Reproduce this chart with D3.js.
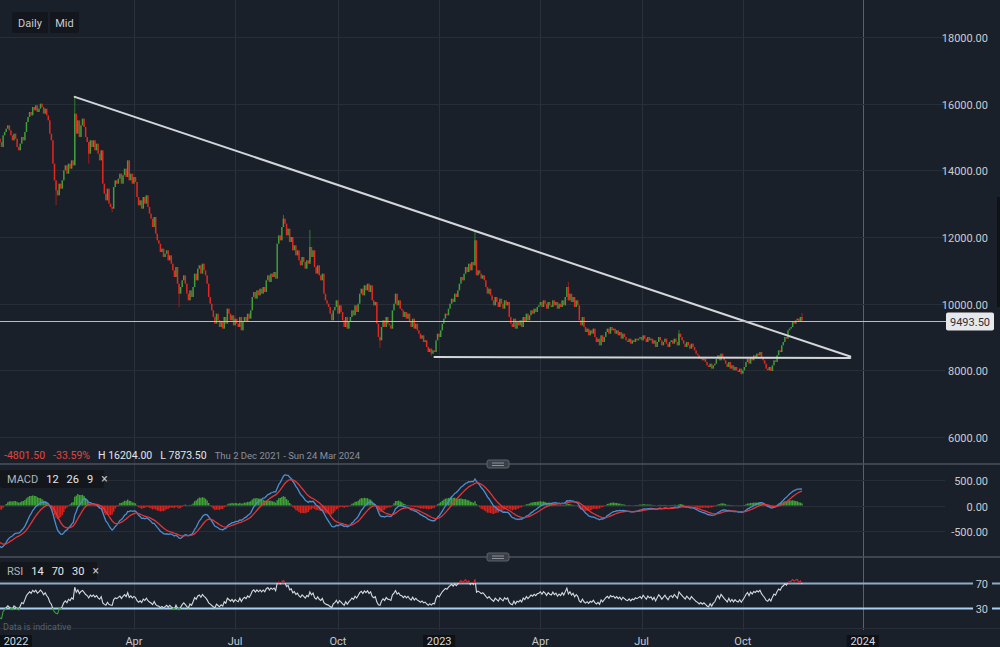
<!DOCTYPE html>
<html><head><meta charset="utf-8">
<script src="https://cdn.jsdelivr.net/npm/d3@7"></script>
<style>
html,body{margin:0;padding:0;background:#1a2029;}
svg{display:block;font-family:Roboto,"Noto Sans",sans-serif;}
</style></head><body>
<svg id="chart" width="1000" height="647"></svg>
<script>
// ---------------- DATA ----------------
const dataStart = "2021-12-02";
const viewEnd = "2024-03-24";
// closes before the visible window (used only to warm up the indicators)
const warmupCloses = [19050,19150,19000,19100,19200,19080,19150,19020,19100,19180,19050,19120,19200,19100,19150,
 18950,18780,18870,18550,18380,18460,18150,17980,18060,17750,17580,17670,17350,17180,17270,16950,16780,16870,16550,16380,16470,16150,15980,16060,15750,15580,15660,15350,15200,14950];
// daily closes, one per trading day from dataStart
const closes = [
 14850,14700,15050,15150, 15250,15350,15200, 15050,14900,15100,14950, 14700,14600,14800, 15000,14900,15150, 15450,15600,
 15750,15650,15900, 15800,15950,15750,15850,16000,15900,15700, 15850,15650,15500, 15100,14900, 14200,13700,
 13400,13250,13600, 13450,13700, 14000,14150,13900, 14200,14050,14300,14150, 15700, 15100,15500,15000,15350,
 15550,15300, 15000,14850, 14500,14900, 14700,14900,14600,14800,14500, 14300,14600, 13600,13300,13100,13450,13000,
 12900,12850, 13500,13700,13600,13750, 13900,13600,13850,14050,13800,14300, 13700,13900,13600,13800,13650,
 13200,12950, 13100,12850,13200,13000,13250, 12900,12700,12550, 12300,12600,12100,11900,11800,
 11550,11650,11400,11500, 11600,11300,11450,11200, 11000,10800,11100, 10600,10300,10500, 10700,10850,10600,
 10300,10100,10400,10200, 10500,10900,10700,11050, 11150,10900,11200,11000,10850, 10600,10200,10000,
 9800,9600,9400,9700,9500, 9300,9450,9250,9600,9400, 9850,9700, 9500,9650,9350,9550,9400, 9300,9600,9200,9450,9600,
 9450,9700,9550,9800, 10200,10350,10150,10400,10250, 10450,10300,10500,10350,
 10700,10850,10650,10900,10800,10950,10750, 11800,12050,11900, 12300,12550,12400, 12050,12250,11850,12000,
 11600,11750,11450,11600, 11300,11150,11400,11250,11050,11300,11200, 11700,11400,11600, 11100,10900,11150,
 10850,10700,10900, 10300,10100,10000,9900, 9700,9500,9800, 9900,10100,9700,9950,9750, 9500,9300,9600,9250,9450,9600,
 9800,9650,9950,9750,10000, 10300,10450,10250,10550,10400, 10600,10350,10550, 10100,9950,10050,
 9400,9000,8900,9300, 9500,9300,9600,9400, 9350,9250, 9800,10000,10300,9950,10100,9850, 9800,9600,9750,9550,9700,
 9450,9300,9550,9250,9400,9200, 9100,8950,9050,8850,8900, 8700,8550,8650,8500,8600,8550,
 8900,9100,9000,9200, 9400,9550,9700,9650, 9850,10000,10150,10050,10300,10200,10400, 10600,10800,10700,10900,
 11100,10950,11200,11000,11250, 11150,11900, 10850,11000, 10900,10750,10850,10700, 10500,10300,10450,10250,
 10100,9950,10200,10050,9900,10150, 10000,9850,10100,9950,10050, 9600,9400,9300,9550,9250,9450,
 9350,9500,9300,9600,9450,9700,9500, 9650,9800,9700,9850,9750,9900, 9950,10050,9900,10100,10000,9850,10050,9950,
 9900,10100,9950,10050,9850,10000,9900,10100,9950, 10200,10500,10100,10300, 10050,10200,9900,10100,9950,
 9500,9350,9600,9300, 9150,9250,9050,9200,9100,9250,9000, 8850,8950,8750,9050,8850,9000,
 9150,9250,9100,9300,9200,9250,9100,9200, 9050,9150,8950,9100,9000, 8900,8850,8950,8800,8900,8850,8950,8900,
 8950,9000,8900,9050,8950,8850,9000,8900,8950, 8800,8900,8700,8850,9000,8900,8750,8850,8950,8800,8700,8850,
 8900,8800,8950,8850,8750,9100,9000,8900, 8800,8700,8850,8750,8650,8800,8700,8600,8500,8450,
 8350,8400,8300,8350,8250, 8150,8100,8200,8050,8150,8200, 8350,8450,8300,8500,8400,8300,
 8200,8100,8250,8050,8150,8000,8100,8000, 7950,8050,7900,8000,8100, 8250,8350,8200,8400,8300,8450,8400,8500,
 8450,8550,8400,8300,8200, 8050,8000,8100,7980, 8150,8300,8250, 8450,8600,8550,8750, 8850,9000,8950,
 9200,9250,9300, 9450,9400,9500,9550,9450,9600,9493.5
];
// [trading-day index, value] for the longer wicks
const wickHighs = [[48,16204],[182,12660],[199,12210],[305,12210],[365,10650],[436,9210],[515,9720]];
const wickLows = [[36,12960],[57,14200],[72,12750],[115,9900],[244,8670],[277,8430],[476,7873.5]];
const priceTicks = [6000,8000,10000,12000,14000,16000,18000];
const macdTicks = [-500,0,500];
const rsiLevels = [70,30];
const timeTicks = [
 {date:"2022-01-03",label:"2022",year:true},{date:"2022-04-01",label:"Apr"},{date:"2022-07-01",label:"Jul"},
 {date:"2022-10-03",label:"Oct"},{date:"2023-01-02",label:"2023",year:true},{date:"2023-04-03",label:"Apr"},
 {date:"2023-07-03",label:"Jul"},{date:"2023-10-02",label:"Oct"},{date:"2024-01-01",label:"2024",year:true}];
const lastPrice = 9493.5;
const trendLines = [
 [["2022-02-08",16204],["2023-12-24",8415]],
 [["2022-12-28",8400],["2023-12-24",8370]]
];
const statsItems = [
 {text:"-4801.50",color:"#e5433f",size:10.5},{text:"-33.59%",color:"#e5433f",size:10.5},
 {text:"H 16204.00",color:"#e2e5e9",size:10.5},{text:"L 7873.50",color:"#e2e5e9",size:10.5},
 {text:"Thu 2 Dec 2021 - Sun 24 Mar 2024",color:"#8a9099",size:9.5}];

// ---------------- HELPERS ----------------
const DAY = 864e5;
const t0 = Date.parse(dataStart);
const dates = [];
{ let t = t0; while (dates.length < closes.length) { const d = new Date(t).getUTCDay(); if (d!==0 && d!==6) dates.push(t); t += DAY; } }
const lastT = dates[dates.length-1], lastSlot = closes.length-1;
function slotOf(ds){
  const t = Date.parse(ds);
  if (t <= lastT) { let n=0; for (let u=t0; u<t; u+=DAY){ const d=new Date(u).getUTCDay(); if(d!==0&&d!==6) n++; } return n; }
  return lastSlot + Math.round((t-lastT)/DAY);
}
const W = warmupCloses.length;
const all = warmupCloses.concat(closes);
function ema(arr,n){ const k=2/(n+1); let p=arr[0]; return arr.map((v,i)=> (p = i===0 ? v : v*k + p*(1-k))); }
const e12 = ema(all,12), e26 = ema(all,26);
const macd = all.map((v,i)=>e12[i]-e26[i]);
const signal = ema(macd,9);
const hist = macd.map((v,i)=>v-signal[i]);
function rsiCalc(arr,n){
  const out=[null]; let ag=0, al=0;
  for (let i=1;i<arr.length;i++){
    const ch=arr[i]-arr[i-1], g=Math.max(ch,0), l=Math.max(-ch,0);
    if (i<=n){ ag+=g/n; al+=l/n; out.push(i===n ? 100-100/(1+ag/(al||1e-9)) : null); }
    else { ag=(ag*(n-1)+g)/n; al=(al*(n-1)+l)/n; out.push(100-100/(1+ag/(al||1e-9))); }
  }
  return out;
}
const rsi = rsiCalc(all,14);

// ---------------- SCALES ----------------
const svg = d3.select("#chart");
const x = d3.scaleLinear().domain([0, slotOf(viewEnd)]).range([0, 992]);
const y = d3.scaleLinear().domain([6000,18000]).range([437,37]);
const ym = d3.scaleLinear().domain([-500,500]).range([531,480]);
const yr = d3.scaleLinear().domain([30,70]).range([608,583]);

svg.append("rect").attr("width",1000).attr("height",647).attr("fill","#1a2029");
const defs = svg.append("defs");
defs.append("clipPath").attr("id","cp").append("rect").attr("x",0).attr("y",0).attr("width",993).attr("height",462);
defs.append("clipPath").attr("id","cm").append("rect").attr("x",0).attr("y",465).attr("width",993).attr("height",91);
defs.append("clipPath").attr("id","rsiHi").append("rect").attr("x",0).attr("y",558).attr("width",993).attr("height",yr(70)-558);
defs.append("clipPath").attr("id","rsiMid").append("rect").attr("x",0).attr("y",yr(70)).attr("width",993).attr("height",yr(30)-yr(70));
defs.append("clipPath").attr("id","rsiLo").append("rect").attr("x",0).attr("y",yr(30)).attr("width",993).attr("height",628-yr(30));

// ---------------- GRID ----------------
const grid = svg.append("g");
timeTicks.forEach((t,i)=>{
  if (i===0) return;
  const xx = Math.round(x(slotOf(t.date)))+0.5;
  grid.append("line").attr("x1",xx).attr("x2",xx).attr("y1",0).attr("y2",630)
    .attr("stroke", t.label==="2024" ? "#5a616b" : "#2a313b").attr("stroke-width",1);
});
priceTicks.forEach(p=>{
  const yy=Math.round(y(p))+0.5;
  grid.append("line").attr("x1",0).attr("x2",945).attr("y1",yy).attr("y2",yy).attr("stroke","#272e38");
  svg.append("text").attr("x",988).attr("y",yy+4).attr("text-anchor","end").attr("font-size",11).attr("fill","#c9cdd2").text(p.toFixed(2));
});
macdTicks.forEach(v=>{
  const yy=Math.round(ym(v))+0.5;
  grid.append("line").attr("x1",0).attr("x2",945).attr("y1",yy).attr("y2",yy).attr("stroke","#272e38");
  svg.append("text").attr("x",988).attr("y",yy+4).attr("text-anchor","end").attr("font-size",11).attr("fill","#c9cdd2").text(v.toFixed(2));
});
grid.append("line").attr("x1",0).attr("x2",1000).attr("y1",628.5).attr("y2",628.5).attr("stroke","#272e38");

// ---------------- CANDLES ----------------
const cg = svg.append("g").attr("clip-path","url(#cp)");
const hiMap = new Map(wickHighs), loMap = new Map(wickLows);
closes.forEach((c,i)=>{
  const o = i===0 ? warmupCloses[W-1] : closes[i-1];
  const up = c >= o;
  const col = up ? "#3f9e3a" : "#e8261f";
  const xx = x(i);
  const hi = hiMap.has(i) ? hiMap.get(i) : Math.max(o,c);
  const lo = loMap.has(i) ? loMap.get(i) : Math.min(o,c);
  if (hiMap.has(i) || loMap.has(i))
    cg.append("line").attr("x1",xx).attr("x2",xx).attr("y1",y(hi)).attr("y2",y(lo)).attr("stroke",up?"#2f7a2c":"#9c1d1a").attr("stroke-width",1);
  const top=y(Math.max(o,c)), bot=y(Math.min(o,c));
  cg.append("rect").attr("x",xx-0.75).attr("width",1.5).attr("y",top).attr("height",Math.max(1,bot-top)).attr("fill",col);
});

// trend lines
const tl = svg.append("g").attr("clip-path","url(#cp)");
trendLines.forEach(seg=>{
  tl.append("line").attr("x1",x(slotOf(seg[0][0]))).attr("y1",y(seg[0][1]))
    .attr("x2",x(slotOf(seg[1][0]))).attr("y2",y(seg[1][1]))
    .attr("stroke","#d4d6d9").attr("stroke-width",2).attr("stroke-linecap","round");
});
// last price line + label
const ly = Math.round(y(lastPrice))+0.5;
svg.append("line").attr("x1",0).attr("x2",946).attr("y1",ly).attr("y2",ly).attr("stroke","#b9bdc3").attr("stroke-width",1);
svg.append("rect").attr("x",946).attr("y",ly-9).attr("width",48).attr("height",18).attr("rx",2).attr("fill","#e6e8eb");
svg.append("text").attr("x",970).attr("y",ly+4).attr("text-anchor","middle").attr("font-size",11).attr("fill","#2a2f36").text(lastPrice.toFixed(2));
// scrollbar strip
svg.append("rect").attr("x",997).attr("y",197).attr("width",3).attr("height",110).attr("fill","#0f1317");

// ---------------- MACD ----------------
const mg = svg.append("g").attr("clip-path","url(#cm)");
hist.forEach((h,j)=>{
  const i=j-W; if (i<-1) return;
  const xx=x(i);
  mg.append("rect").attr("x",xx-0.7).attr("width",1.4)
    .attr("y",Math.min(ym(h),ym(0))).attr("height",Math.max(0.5,Math.abs(ym(h)-ym(0))))
    .attr("fill", h>=0 ? "#3fa536" : "#d9221c");
});
const vis = d3.range(Math.max(0,W-3), all.length);
const lineM = d3.line().x(j=>x(j-W)).y(j=>ym(macd[j]));
const lineS = d3.line().x(j=>x(j-W)).y(j=>ym(signal[j]));
mg.append("path").attr("d",lineM(vis)).attr("fill","none").attr("stroke","#4b8fd3").attr("stroke-width",1.3);
mg.append("path").attr("d",lineS(vis)).attr("fill","none").attr("stroke","#e5343a").attr("stroke-width",1.3);

// ---------------- RSI ----------------
rsiLevels.forEach(v=>{
  const yy=Math.round(yr(v))+0.5;
  svg.append("line").attr("x1",0).attr("x2",1000).attr("y1",yy).attr("y2",yy)
    .attr("stroke", v===70 ? "#8eaac6" : "#a9d0f0").attr("stroke-width",2);
  svg.append("rect").attr("x",973).attr("y",yy-7).attr("width",19).attr("height",14).attr("fill","#1a2029");
  svg.append("text").attr("x",988).attr("y",yy+4).attr("text-anchor","end").attr("font-size",11).attr("fill","#c9cdd2").text(v);
});
const visR = vis.filter(j=>rsi[j]!=null);
const lineR = d3.line().x(j=>x(j-W)).y(j=>yr(rsi[j]));
[["rsiMid","#d6dadf"],["rsiHi","#e0262a"],["rsiLo","#3a9e37"]].forEach(([cp,col])=>{
  svg.append("g").attr("clip-path",`url(#${cp})`).append("path").attr("d",lineR(visR))
    .attr("fill","none").attr("stroke",col).attr("stroke-width",1.1);
});

// ---------------- PANEL SEPARATORS ----------------
[464,557].forEach(yy=>{
  svg.append("line").attr("x1",0).attr("x2",1000).attr("y1",yy).attr("y2",yy).attr("stroke","#4d525b").attr("stroke-width",1.5);
  svg.append("rect").attr("x",487).attr("y",yy-4).attr("width",22).attr("height",8).attr("rx",2)
    .attr("fill","#3b4048").attr("stroke","#5d626b").attr("stroke-width",1);
  svg.append("line").attr("x1",492).attr("x2",504).attr("y1",yy-1).attr("y2",yy-1).attr("stroke","#8d9299");
  svg.append("line").attr("x1",492).attr("x2",504).attr("y1",yy+1.5).attr("y2",yy+1.5).attr("stroke","#8d9299");
});

// ---------------- TEXTS ----------------
function btn(x0,w,label){
  svg.append("rect").attr("x",x0).attr("y",12).attr("width",w).attr("height",21).attr("rx",2).attr("fill","#13171d");
  svg.append("text").attr("x",x0+w/2).attr("y",27).attr("text-anchor","middle").attr("font-size",11).attr("fill","#c8ccd2").text(label);
}
btn(12,36,"Daily"); btn(50,29,"Mid");

let sx = 4;
statsItems.forEach(s=>{
  const t = svg.append("text").attr("x",sx).attr("y",459).attr("font-size",s.size).attr("fill",s.color).text(s.text);
  sx += t.node().getComputedTextLength() + 8;
});

function legend(y0,w,name,params){
  svg.append("rect").attr("x",0).attr("y",y0).attr("width",w).attr("height",18).attr("rx",2).attr("fill","#13171c");
  let lx = 7;
  const t = svg.append("text").attr("x",lx).attr("y",y0+13).attr("font-size",11).attr("fill","#b0b5bb").text(name);
  lx += t.node().getComputedTextLength()+8;
  params.forEach(p=>{
    const u = svg.append("text").attr("x",lx).attr("y",y0+13).attr("font-size",11).attr("fill","#e6e8eb").text(p);
    lx += u.node().getComputedTextLength()+8;
  });
  svg.append("text").attr("x",lx).attr("y",y0+13).attr("font-size",12).attr("fill","#c0c4ca").text("×");
}
legend(470,104,"MACD",["12","26","9"]);
legend(562,97,"RSI",["14","70","30"]);

svg.append("text").attr("x",3).attr("y",630).attr("font-size",9).attr("fill","#59606a").text("Data is indicative");

// time axis labels
timeTicks.forEach((t,i)=>{
  const xx = x(slotOf(t.date));
  if (t.year){
    const bx = i===0 ? 0 : xx-16;
    svg.append("rect").attr("x",bx).attr("y",635).attr("width",32).attr("height",12).attr("fill","#0e1115");
    svg.append("text").attr("x",bx+16).attr("y",645).attr("text-anchor","middle").attr("font-size",11).attr("fill","#d7dade").text(t.label);
  } else {
    svg.append("text").attr("x",xx).attr("y",645).attr("text-anchor","middle").attr("font-size",11).attr("fill","#c5c9cf").text(t.label);
  }
});
</script>
</body></html>
